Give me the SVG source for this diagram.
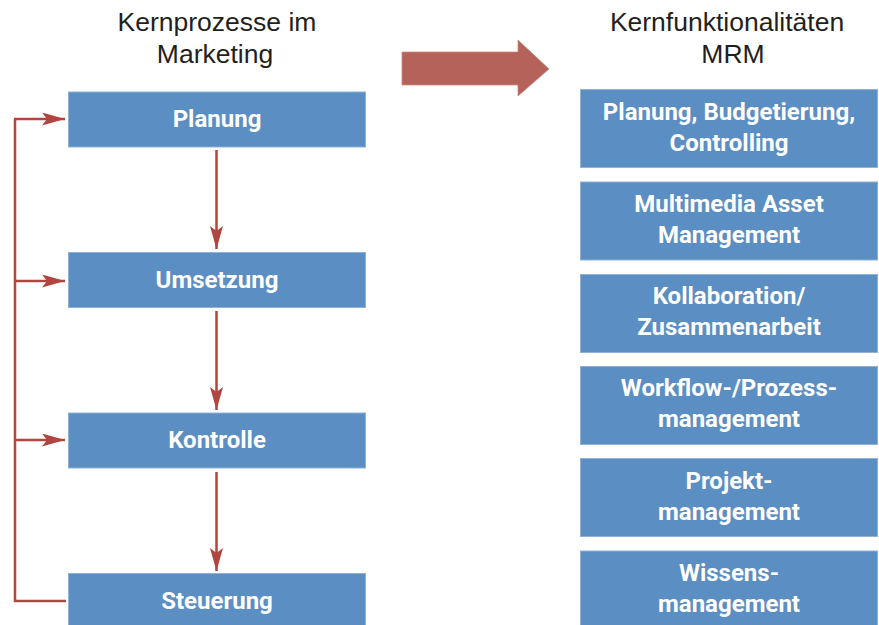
<svg xmlns="http://www.w3.org/2000/svg" width="879" height="625" viewBox="0 0 879 625">
<style>
.box{fill:#5b8ec2;stroke:#8fb2d6;stroke-width:1}
.lbl{font-family:Roboto,"Liberation Sans",sans-serif;font-weight:bold;font-size:24px;fill:#ffffff;text-anchor:middle}
.hdr{font-family:"Liberation Sans",Arial,sans-serif;font-size:26.5px;fill:#231f20;text-anchor:middle}
.con{stroke:#b0463f;stroke-width:2.5;fill:none}
</style>
<defs>
<marker id="ah" viewBox="0 0 23 13" refX="23" refY="6.5" markerWidth="23" markerHeight="13" markerUnits="userSpaceOnUse" orient="auto">
<path d="M0,0 L23,6.5 L0,13 L5,6.5 Z" fill="#b0463f"/>
</marker>
</defs>
<rect width="879" height="625" fill="#ffffff"/>
<g id="headers">
<text class="hdr" x="217" y="31">Kernprozesse im</text>
<text class="hdr" x="215" y="63">Marketing</text>
<text class="hdr" x="727" y="31">Kernfunktionalitäten</text>
<text class="hdr" x="733" y="63">MRM</text>
</g>
<g id="big-arrow">
<path d="M402,52 L518,52 L518,40 L549,69 L518,96 L518,85 L402,85 Z" fill="#b5625a" stroke="#c98a84" stroke-width="0.8"/>
</g>
<g id="connectors">
<line class="con" x1="216.5" y1="150" x2="216.5" y2="249" marker-end="url(#ah)"/>
<line class="con" x1="216.5" y1="311" x2="216.5" y2="410" marker-end="url(#ah)"/>
<line class="con" x1="216.5" y1="472" x2="216.5" y2="571" marker-end="url(#ah)"/>
<polyline class="con" points="66,601 15,601 15,119"/>
<line class="con" x1="14" y1="119" x2="65" y2="119" marker-end="url(#ah)"/>
<line class="con" x1="15" y1="281" x2="65" y2="281" marker-end="url(#ah)"/>
<line class="con" x1="15" y1="440" x2="65" y2="440" marker-end="url(#ah)"/>
</g>
<g id="n-planung"><rect class="box" x="68.5" y="92" width="297" height="55"/><text class="lbl" x="217" y="127">Planung</text></g>
<g id="n-umsetzung"><rect class="box" x="68.5" y="252.5" width="297" height="55"/><text class="lbl" x="217" y="288">Umsetzung</text></g>
<g id="n-kontrolle"><rect class="box" x="68.5" y="413" width="297" height="55"/><text class="lbl" x="217" y="448">Kontrolle</text></g>
<g id="n-steuerung"><rect class="box" x="68.5" y="573.5" width="297" height="55"/><text class="lbl" x="217" y="609">Steuerung</text></g>
<g id="f-planung"><rect class="box" x="580.5" y="89.5" width="297" height="78"/><text class="lbl" x="729" y="120">Planung, Budgetierung,</text><text class="lbl" x="729" y="151">Controlling</text></g>
<g id="f-mam"><rect class="box" x="580.5" y="182" width="297" height="78"/><text class="lbl" x="729" y="212">Multimedia Asset</text><text class="lbl" x="729" y="243">Management</text></g>
<g id="f-kollab"><rect class="box" x="580.5" y="274.5" width="297" height="78"/><text class="lbl" x="729" y="304">Kollaboration/</text><text class="lbl" x="729" y="335">Zusammenarbeit</text></g>
<g id="f-workflow"><rect class="box" x="580.5" y="366.5" width="297" height="78"/><text class="lbl" x="729" y="396">Workflow-/Prozess-</text><text class="lbl" x="729" y="427">management</text></g>
<g id="f-projekt"><rect class="box" x="580.5" y="458.5" width="297" height="78"/><text class="lbl" x="729" y="489">Projekt-</text><text class="lbl" x="729" y="520">management</text></g>
<g id="f-wissen"><rect class="box" x="580.5" y="551" width="297" height="78"/><text class="lbl" x="729" y="581">Wissens-</text><text class="lbl" x="729" y="612">management</text></g>
</svg>
